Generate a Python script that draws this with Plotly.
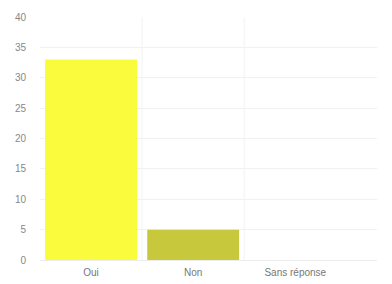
import plotly.graph_objects as go

categories = ["Oui", "Non", "Sans réponse"]
values = [33, 5, 0]
colors = ["#fbfb3e", "#c8c83c", "#f3f3a0"]
y_ticks = [0, 5, 10, 15, 20, 25, 30, 35, 40]

fig = go.Figure(go.Bar(x=categories, y=values, marker=dict(color=colors, line=dict(width=0)), width=0.9))

# page body has an 8px default margin, so the figure is sized to fit the window
fig.update_layout(
    width=384, height=276,
    margin=dict(l=32, r=15, t=9, b=24, autoexpand=False),
    paper_bgcolor="white", plot_bgcolor="white",
    showlegend=False,
    font=dict(family="Liberation Sans, Arial, sans-serif", size=10, color="#8a8a8a"),
)
fig.update_xaxes(range=[-0.5, 2.8], showgrid=False, showline=True, linecolor="#ececec",
                 ticks="", tickfont=dict(size=10, color="#777"), automargin=False,
                 ticklabelstandoff=3)
fig.update_yaxes(range=[0, 40], tickvals=y_ticks, showgrid=True, gridcolor="#f1f1f1",
                 zeroline=False, ticks="", tickfont=dict(size=10, color="#888"),
                 ticklabelstandoff=13, automargin=False)

for xv in [0.5, 1.5]:
    fig.add_shape(type="line", xref="x", yref="paper", x0=xv, x1=xv, y0=0, y1=1,
                  line=dict(color="#f3f3f3", width=1), layer="below")

fig.write_html("out.html")
